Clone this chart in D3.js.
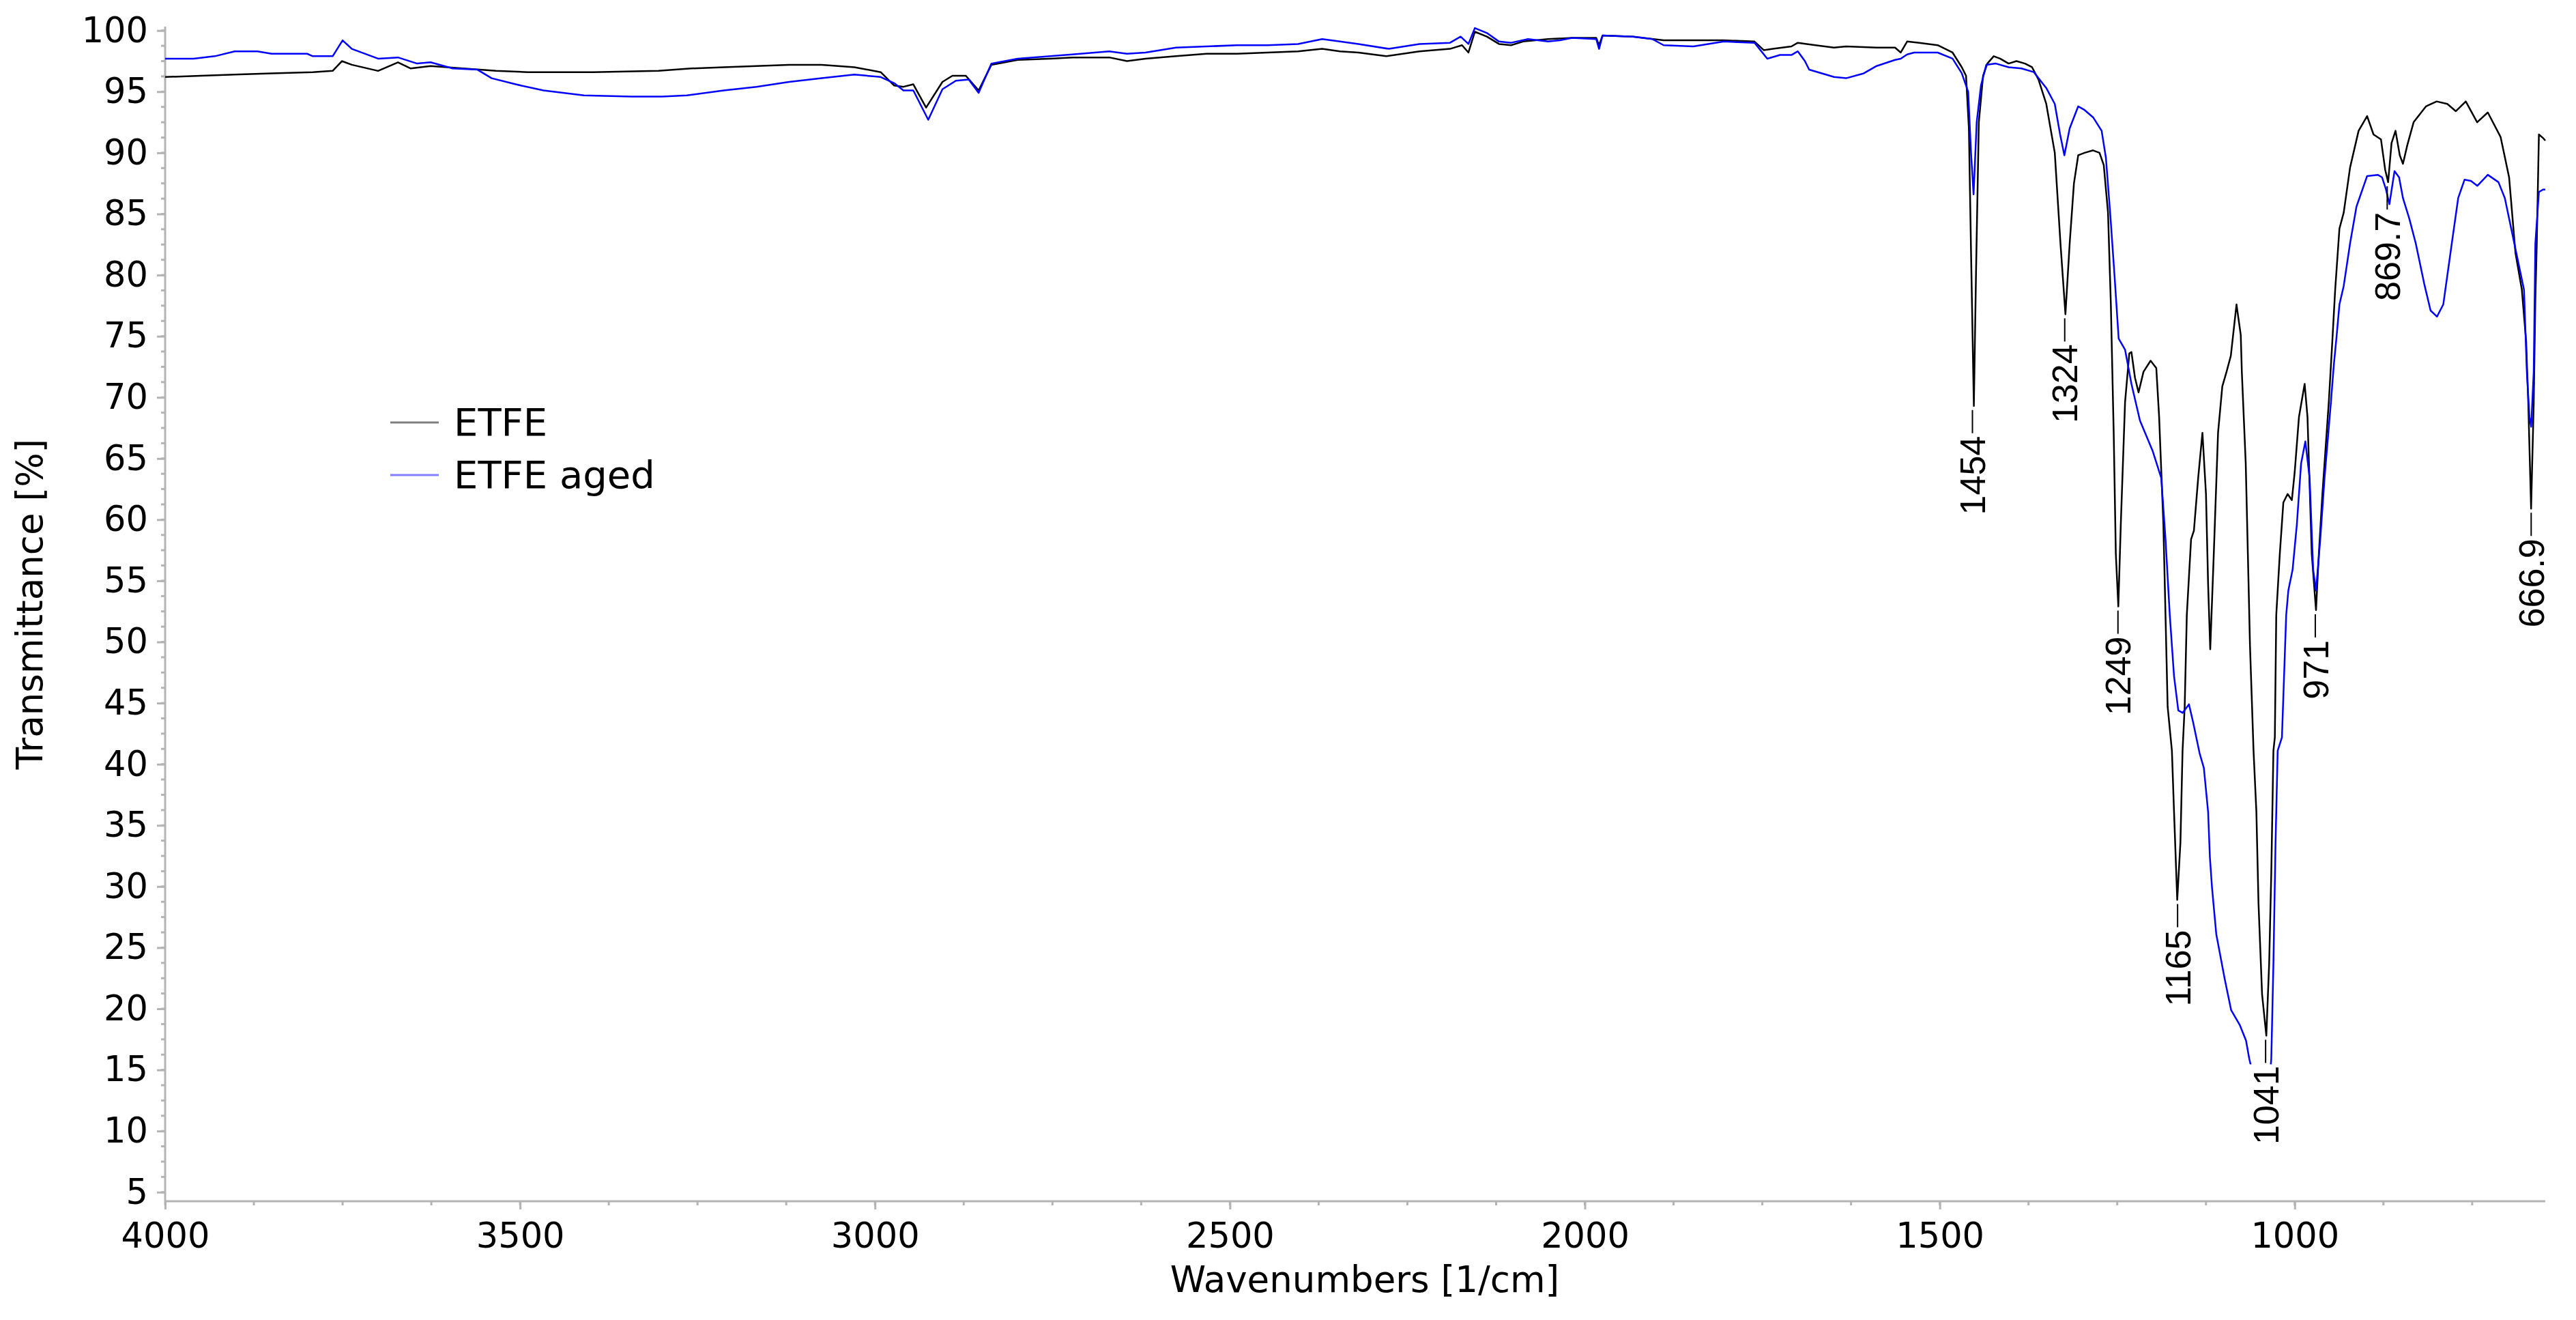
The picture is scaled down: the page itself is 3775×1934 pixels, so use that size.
<!DOCTYPE html>
<html><head><meta charset="utf-8">
<script src="https://cdn.jsdelivr.net/npm/d3@7"></script>
<style>body{margin:0;background:#fff}svg{display:block}</style>
</head><body>
<svg id="chart" width="3775" height="1934"></svg>
<script>
// ---------------- data ----------------
const xTickValues = [4000, 3500, 3000, 2500, 2000, 1500, 1000];
const yTickValues = [5,10,15,20,25,30,35,40,45,50,55,60,65,70,75,80,85,90,95,100];
const seriesNames = ["ETFE", "ETFE aged"];

const etfeWavenumbers = [4000,3950,3902,3850,3792,3764,3751,3737,3700,3672,3654,3626,3580,3534,3489,3397,3305,3259,3213,3121,3075,3029,2992,2973,2960,2946,2928,2905,2891,2872,2854,2836,2799,2753,2722,2670,2645,2619,2576,2533,2490,2447,2404,2370,2345,2319,2280,2233,2190,2173,2164,2155,2138,2121,2104,2087,2052,2018,1984,1980,1975,1932,1889,1847,1804,1761,1748,1735,1709,1700,1675,1649,1632,1589,1563,1555,1546,1529,1503,1482,1469,1463,1459,1456,1452,1449,1445,1439,1433,1424,1415,1403,1392,1380,1370,1361,1350,1338,1330,1323,1317,1311,1305,1296,1284,1275,1269,1263,1259,1255,1252,1248.5,1245,1239,1233,1230,1225,1220,1213,1203,1195,1191,1185,1179,1173,1170,1165.5,1161,1158,1155,1152,1146,1142,1136,1130,1125,1122,1119,1114,1108,1102,1096,1090,1082,1076,1074.5,1069,1066,1063,1058,1054,1051,1046,1040,1036,1033,1030,1028,1026,1021,1016,1010,1004,1000,994,986,982,976,970,966,961,952,947,943,937,931,922,910,898,889,878.5,872.5,868.4,863.6,858,852,847.5,841.5,832.5,815,800,785,773,759,743,728,710,698,689,680,674,671,667,663.3,661,659,656,650,647];
const etfeTransmittance = [96.2,96.3,96.4,96.5,96.6,96.7,97.5,97.2,96.7,97.4,96.9,97.1,96.9,96.7,96.6,96.6,96.7,96.9,97.0,97.2,97.2,97.0,96.6,95.5,95.4,95.6,93.7,95.8,96.3,96.3,95.1,97.2,97.6,97.7,97.8,97.8,97.5,97.7,97.9,98.1,98.1,98.2,98.3,98.5,98.3,98.2,97.9,98.3,98.5,98.8,98.2,99.9,99.5,98.9,98.8,99.1,99.3,99.4,99.4,98.8,99.6,99.5,99.2,99.2,99.2,99.1,98.4,98.5,98.7,99.0,98.8,98.6,98.7,98.6,98.6,98.2,99.1,99.0,98.8,98.2,97.0,96.3,92.0,82.0,69.3,80.0,92.5,96.3,97.3,97.9,97.7,97.3,97.5,97.3,97.0,96.0,94.0,90.0,82.6,76.8,82.6,87.5,89.8,90.0,90.2,90.0,89.0,85.1,77.6,67.1,57.2,52.9,59.6,69.6,73.6,73.7,71.6,70.4,72.1,73.0,72.4,68.4,59.6,44.7,41.1,36.1,28.9,33.6,41.1,44.7,52.2,58.4,59.1,63.4,67.1,62.1,54.7,49.4,57.2,67.1,70.9,72.1,73.4,77.6,75.1,72.1,64.6,57.2,49.7,41.1,36.1,28.6,21.2,17.8,23.7,31.1,41.1,42.2,52.2,57.2,61.4,62.1,61.6,63.9,68.4,71.1,68.4,57.2,52.6,57.2,62.1,69.6,74.6,78.8,83.8,85.1,88.8,91.8,93.0,91.5,91.1,88.6,87.6,90.8,91.8,89.8,89.1,90.6,92.5,93.8,94.2,94.0,93.4,94.2,92.5,93.3,91.3,88.0,81.8,78.8,74.6,69.6,60.9,69.6,78.0,82.6,91.5,91.2,91.0];

const agedWavenumbers = [4000,3960,3930,3902,3870,3850,3800,3792,3764,3750,3737,3700,3672,3645,3626,3595,3560,3540,3506,3467,3410,3343,3300,3265,3213,3167,3121,3075,3029,2992,2973,2960,2946,2925,2905,2886,2868,2854,2836,2799,2753,2722,2670,2645,2619,2576,2533,2490,2447,2404,2370,2345,2319,2276,2233,2190,2175,2164,2155,2138,2121,2104,2080,2052,2035,2018,1984,1980,1975,1932,1905,1889,1847,1804,1761,1743,1725,1709,1700,1690,1684,1649,1632,1607,1589,1563,1555,1546,1536,1503,1482,1469,1460,1456,1452.4,1448,1442,1434.5,1421,1403,1385,1367.5,1350,1338,1330.5,1324.5,1317,1305,1296,1284,1272,1266,1260,1254,1248,1239,1230,1218,1200,1188,1182,1176,1170,1164,1158,1149,1143,1134,1128,1122,1119.5,1116.5,1110.5,1098.5,1089.6,1077.6,1068.6,1064,1057,1049,1042,1036,1033,1030,1027,1024,1018,1012,1009,1003,997,991,985,979,974,970,964,958,949,945,941,937,931,922,913,898,883,877,871.4,866.6,859.4,853,847.5,838.5,829.5,817.6,808.6,799.6,790.7,778.7,769.7,760.8,751.8,742.8,728,713,704,695,686,677,673,669.3,666.9,663.3,661,656,650,647];
const agedTransmittance = [97.7,97.7,97.9,98.3,98.3,98.1,98.1,97.9,97.9,99.2,98.5,97.7,97.8,97.3,97.4,96.9,96.8,96.1,95.6,95.1,94.7,94.6,94.6,94.7,95.1,95.4,95.8,96.1,96.4,96.2,95.7,95.1,95.1,92.7,95.2,95.9,96.0,94.9,97.3,97.7,97.9,98.05,98.3,98.1,98.2,98.6,98.7,98.8,98.8,98.9,99.3,99.1,98.9,98.5,98.9,99.0,99.5,98.9,100.2,99.8,99.1,99.0,99.3,99.1,99.2,99.4,99.3,98.5,99.6,99.5,99.3,98.8,98.7,99.1,99.0,97.7,98.0,98.0,98.3,97.5,96.8,96.2,96.1,96.5,97.1,97.6,97.7,98.05,98.2,98.2,97.7,96.5,95.0,90.0,86.6,92.5,95.5,97.2,97.3,97.0,96.9,96.6,95.3,94.0,91.5,89.8,92.0,93.8,93.5,92.9,91.8,89.6,85.1,80.1,74.8,73.9,71.1,68.1,65.6,63.4,58.4,52.2,47.2,44.4,44.2,44.9,43.4,40.9,39.7,36.1,32.4,29.9,26.1,22.4,19.9,18.7,17.4,15.9,14.2,13.2,12.9,13.8,15.9,23.7,33.6,41.1,42.2,52.2,54.2,55.9,59.6,64.6,66.4,63.4,55.9,54.2,58.4,63.4,69.6,72.6,75.0,77.6,79.1,82.6,85.6,88.1,88.2,88.0,87.0,85.8,88.5,88.0,86.3,84.6,82.6,79.3,77.1,76.6,77.6,82.6,86.3,87.8,87.7,87.3,88.2,87.6,86.3,83.8,81.3,78.8,72.1,68.4,67.6,72.1,82.6,86.8,87.0,87.0];

const peakWavenumbers = [1454, 1324, 1249, 1165, 1041, 971, 869.7, 666.9];
const peakLabels = ["1454", "1324", "1249", "1165", "1041", "971", "869.7", "666.9"];
const peakTransmittance = [69.3, 76.8, 52.9, 28.9, 17.8, 52.6, 87.6, 60.9];

// ---------------- drawing ----------------
const svg = d3.select("#chart");
const mLeft = 242, mRight = 3730, mTop = 39, mBottom = 1760;
const axisColor = "#b4b4b4";
const seriesColors = ["#000000", "#0000ff"];
const legendColors = ["#808080", "#8080ff"];
const sansFont = "'DejaVu Sans', Verdana, sans-serif";

const x = d3.scaleLinear().domain([4000, 647]).range([mLeft, mRight]);
const y = d3.scaleLinear().domain([4.26, 100.32]).range([mBottom, mTop]);

svg.append("rect").attr("width", 3775).attr("height", 1934).attr("fill", "#fff");

// minor ticks
const xMinor = d3.range(4000, 646, -125);
const yMinor = d3.range(5, 100.1, 1.25);

const gx = svg.append("g").attr("transform", `translate(0,${mBottom})`);
gx.selectAll("line.minor").data(xMinor).join("line").attr("class", "minor")
  .attr("x1", d => x(d)).attr("x2", d => x(d)).attr("y1", 0).attr("y2", 6)
  .attr("stroke", axisColor).attr("stroke-width", 3);
const xAxis = d3.axisBottom(x).tickValues(xTickValues).tickSize(12).tickPadding(20).tickFormat(d3.format("d"));
gx.call(xAxis);
gx.select(".domain").attr("stroke", axisColor).attr("stroke-width", 3).attr("d", `M${mLeft},0H${mRight}`);
gx.selectAll(".tick line").attr("stroke", axisColor).attr("stroke-width", 3);
gx.selectAll(".tick text").attr("fill", "#000").style("font-family", sansFont).style("font-size", "51px");

const gy = svg.append("g").attr("transform", `translate(${mLeft},0)`);
gy.selectAll("line.minor").data(yMinor).join("line").attr("class", "minor")
  .attr("x1", -6).attr("x2", 0).attr("y1", d => y(d)).attr("y2", d => y(d))
  .attr("stroke", axisColor).attr("stroke-width", 3);
const yAxis = d3.axisLeft(y).tickValues(yTickValues).tickSize(12).tickPadding(13).tickFormat(d3.format("d"));
gy.call(yAxis);
gy.select(".domain").attr("stroke", axisColor).attr("stroke-width", 3).attr("d", `M0,${mTop}V${mBottom}`);
gy.selectAll(".tick line").attr("stroke", axisColor).attr("stroke-width", 3);
gy.selectAll(".tick text").attr("fill", "#000").style("font-family", sansFont).style("font-size", "51px");

// axis titles
svg.append("text").attr("x", 2000).attr("y", 1893).attr("text-anchor", "middle")
  .style("font-family", sansFont).style("font-size", "53px")
  .text("Wavenumbers [1/cm]");
svg.append("text").attr("transform", "translate(62,885) rotate(-90)").attr("text-anchor", "middle")
  .style("font-family", sansFont).style("font-size", "53px")
  .text("Transmittance [%]");

// series
const lineGen = d3.line().x(d => x(d[0])).y(d => y(d[1]));
const etfe = etfeWavenumbers.map((w, i) => [w, etfeTransmittance[i]]);
const aged = agedWavenumbers.map((w, i) => [w, agedTransmittance[i]]);
const plot = svg.append("g");
[etfe, aged].forEach((data, i) => {
  plot.append("path").datum(data).attr("d", lineGen).attr("fill", "none")
    .attr("stroke", seriesColors[i]).attr("stroke-width", 2.5).attr("stroke-linejoin", "round");
});

// peak labels (white box behind text, as in the original)
const labels = svg.append("g");
peakWavenumbers.forEach((w, i) => {
  const px = x(w), py = y(peakTransmittance[i]);
  labels.append("line").attr("x1", px).attr("x2", px).attr("y1", py + 6).attr("y2", py + 40)
    .attr("stroke", "#000").attr("stroke-width", 2);
  const g = labels.append("g").attr("transform", `translate(${px},${py + 44}) rotate(-90)`);
  const bg = g.append("rect").attr("fill", "#fff");
  const t = g.append("text").attr("text-anchor", "end").attr("dy", "0.36em")
    .style("font-family", "'Liberation Sans', Arial, sans-serif").style("font-size", "52px")
    .text(peakLabels[i]);
  const bb = t.node().getBBox();
  bg.attr("x", bb.x - 2).attr("y", bb.y + 4).attr("width", bb.width + 4).attr("height", bb.height - 8);
});

// legend
const legend = svg.append("g");
seriesNames.forEach((name, i) => {
  const ly = 619 + i * 77;
  legend.append("line").attr("x1", 572).attr("x2", 643).attr("y1", ly).attr("y2", ly)
    .attr("stroke", legendColors[i]).attr("stroke-width", 3);
  legend.append("text").attr("x", 665).attr("y", ly + 19)
    .style("font-family", sansFont).style("font-size", "56px")
    .text(name);
});
</script>
</body></html>
